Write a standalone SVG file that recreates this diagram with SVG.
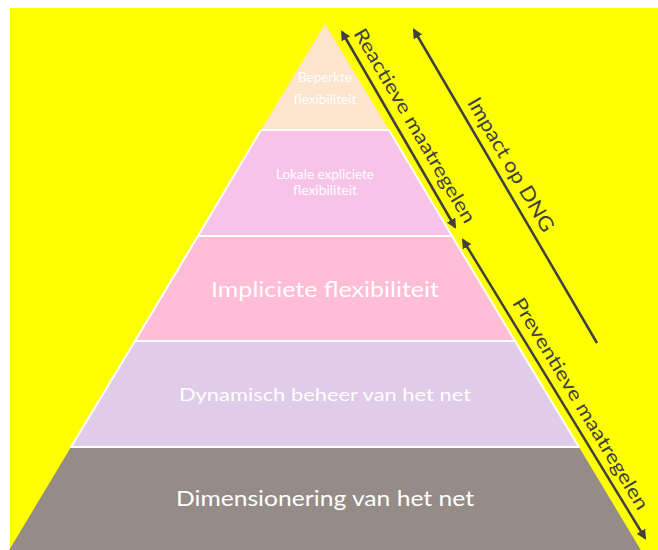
<svg xmlns="http://www.w3.org/2000/svg" width="658" height="550" viewBox="0 0 658 550">
  <style>
    .layer { stroke: #ffffff; stroke-width: 2; stroke-linejoin: miter; }
    .lbl { font-family: Lato, "Open Sans", "Liberation Sans", sans-serif; fill: #ffffff; text-anchor: middle; }
    .side { font-family: Lato, "Open Sans", "Liberation Sans", sans-serif; fill: #3f3f3f; text-anchor: middle; }
    .arrow { stroke: #404040; stroke-width: 2.5; fill: none; }
  </style>
  <defs>
    <marker id="head" viewBox="0 0 10 10" refX="8" refY="5" markerWidth="4" markerHeight="4" orient="auto-start-reverse" markerUnits="strokeWidth">
      <path d="M0,0 L10,5 L0,10 z" fill="#404040"/>
    </marker>
  </defs>

  <!-- background -->
  <rect x="0" y="0" width="658" height="550" fill="#ffffff"/>
  <rect x="10" y="8" width="648" height="542" fill="#ffff00"/>

  <!-- pyramid layers, top to bottom -->
  <g id="beperkte-flexibiliteit">
    <polygon points="325,24 389,130 261,130" fill="#fde4cc"/>
    <text class="lbl" x="325" y="82" font-size="13" textLength="54" lengthAdjust="spacingAndGlyphs">Beperkte</text>
    <text class="lbl" x="325" y="104" font-size="13" textLength="63" lengthAdjust="spacingAndGlyphs">flexibiliteit</text>
  </g>
  <g id="lokale-expliciete-flexibiliteit">
    <polygon class="layer" points="261,130 389,130 452,236 198,236" fill="#f8c3e9"/>
    <text class="lbl" x="325" y="179" font-size="13" textLength="98" lengthAdjust="spacingAndGlyphs">Lokale expliciete</text>
    <text class="lbl" x="325" y="195" font-size="13" textLength="64" lengthAdjust="spacingAndGlyphs">flexibiliteit</text>
  </g>
  <g id="impliciete-flexibiliteit">
    <polygon class="layer" points="198,236 452,236 515,341 135,341" fill="#ffbdd6"/>
    <text class="lbl" x="325" y="297" font-size="22" textLength="228" lengthAdjust="spacingAndGlyphs">Impliciete flexibiliteit</text>
  </g>
  <g id="dynamisch-beheer">
    <polygon class="layer" points="135,341 515,341 579,447 71,447" fill="#e0cbe8"/>
    <text class="lbl" x="325" y="401" font-size="18" textLength="292" lengthAdjust="spacingAndGlyphs">Dynamisch beheer van het net</text>
  </g>
  <g id="dimensionering">
    <polygon points="71,447 579,447 642,552 8,552" fill="#958b87"/>
    <polygon points="71,447 579,447" class="layer" fill="none"/>
    <text class="lbl" x="325" y="506" font-size="21" textLength="298" lengthAdjust="spacingAndGlyphs">Dimensionering van het net</text>
  </g>

  <!-- connectors -->
  <g id="connectors">
    <line class="arrow" x1="342" y1="32" x2="455" y2="227" marker-start="url(#head)" marker-end="url(#head)"/>
    <line class="arrow" x1="414" y1="30" x2="597" y2="343" marker-start="url(#head)"/>
    <line class="arrow" x1="463" y1="240" x2="645" y2="538" marker-start="url(#head)" marker-end="url(#head)"/>
  </g>

  <!-- side labels -->
  <g id="reactieve-label">
    <text class="side" font-size="19" transform="translate(409,129) rotate(59.7)" textLength="222" lengthAdjust="spacingAndGlyphs">Reactieve maatregelen</text>
  </g>
  <g id="impact-label">
    <text class="side" font-size="20" transform="translate(505,168) rotate(59.7)" textLength="152" lengthAdjust="spacingAndGlyphs">Impact op DNG</text>
  </g>
  <g id="preventieve-label">
    <text class="side" font-size="19" transform="translate(575,407) rotate(58.8)" textLength="244" lengthAdjust="spacingAndGlyphs">Preventieve maatregelen</text>
  </g>
</svg>
